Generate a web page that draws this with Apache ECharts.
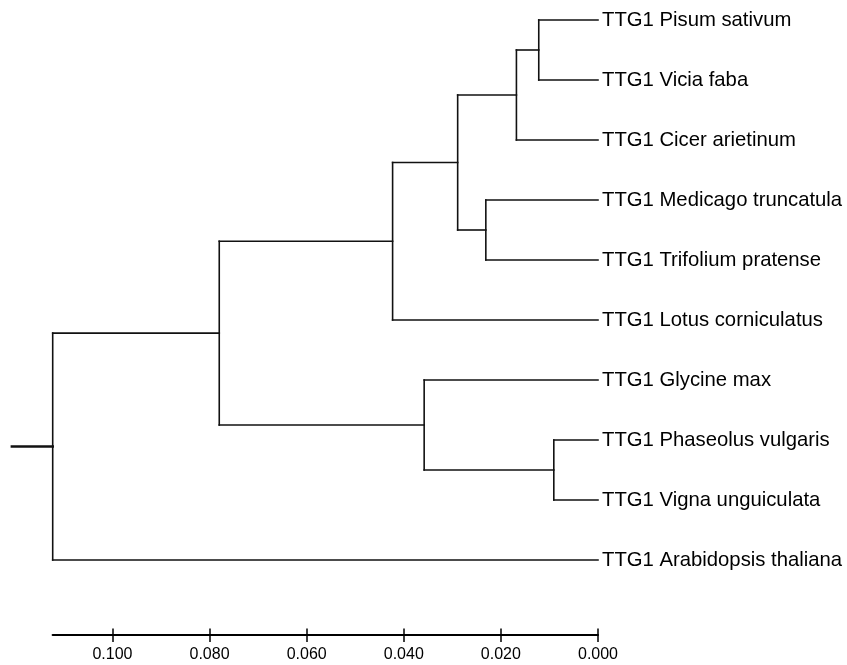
<!DOCTYPE html>
<html>
<head>
<meta charset="utf-8">
<script src="https://cdn.jsdelivr.net/npm/echarts@6/dist/echarts.min.js"></script>
<style>
html,body{margin:0;padding:0;background:#fff;}
#chart{width:847px;height:665px;}
</style>
</head>
<body>
<div id="chart"></div>
<script>
// Leaf taxa, top to bottom
const leafNames = [
  'TTG1 Pisum sativum',
  'TTG1 Vicia faba',
  'TTG1 Cicer arietinum',
  'TTG1 Medicago truncatula',
  'TTG1 Trifolium pratense',
  'TTG1 Lotus corniculatus',
  'TTG1 Glycine max',
  'TTG1 Phaseolus vulgaris',
  'TTG1 Vigna unguiculata',
  'TTG1 Arabidopsis thaliana'
];
// Internal nodes: children (leaf index 0-9, internal node index 10+) and height (distance)
const nodeChildren = [
  [0, 1],   // 10 Pisum + Vicia
  [10, 2],  // 11 + Cicer
  [3, 4],   // 12 Medicago + Trifolium
  [11, 12], // 13
  [13, 5],  // 14 + Lotus
  [7, 8],   // 15 Phaseolus + Vigna
  [6, 15],  // 16 Glycine + 15
  [14, 16], // 17 legumes
  [17, 9]   // 18 root
];
const nodeHeights = [0.0122, 0.0168, 0.0231, 0.0289, 0.0423, 0.0091, 0.0358, 0.0780, 0.1123];
const rootStemStart = 0.1207;
const axisTicks = [0, 0.02, 0.04, 0.06, 0.08, 0.10];
const axisMax = 0.1123;

// Build layout
const nLeaf = leafNames.length;
const ys = [], hs = [], parent = [];
for (let i = 0; i < nLeaf; i++) { ys[i] = i; hs[i] = 0; }
nodeChildren.forEach((c, k) => {
  const id = nLeaf + k;
  hs[id] = nodeHeights[k];
  ys[id] = (ys[c[0]] + ys[c[1]]) / 2;
  parent[c[0]] = id; parent[c[1]] = id;
});
const rootId = nLeaf + nodeChildren.length - 1;
const segs = []; // [x1, y1, x2, y2, width]
for (let id = 0; id <= rootId; id++) {
  const px = id === rootId ? rootStemStart : hs[parent[id]];
  segs.push([px, ys[id], hs[id], ys[id], id === rootId ? 2.6 : 1.6]);
  if (id >= nLeaf) {
    const c = nodeChildren[id - nLeaf];
    segs.push([hs[id], ys[c[0]], hs[id], ys[c[1]], 1.6]);
  }
}
const leafData = leafNames.map((n, i) => [0, i, n]);

const chart = echarts.init(document.getElementById('chart'), null, {renderer: 'canvas'});
const axisCommon = {
  type: 'value', inverse: true, min: 0, max: axisMax, position: 'bottom', offset: 75,
  splitLine: {show: false}
};
chart.setOption({
  animation: false,
  backgroundColor: '#fff',
  grid: {left: 52.7, right: 249, top: 20, height: 540},
  xAxis: [
    Object.assign({}, axisCommon, {
      axisLine: {show: true, onZero: false, lineStyle: {color: '#000', width: 2.2}},
      axisTick: {show: true, length: 7, lineStyle: {color: '#000', width: 1.5}, customValues: axisTicks},
      axisLabel: {show: true, margin: 12, color: '#000', fontSize: 16, fontFamily: 'Liberation Sans, Arial, sans-serif',
        customValues: axisTicks, formatter: v => v.toFixed(3)}
    }),
    Object.assign({}, axisCommon, {
      axisLine: {show: false, onZero: false},
      axisTick: {show: true, inside: true, length: 6.5, lineStyle: {color: '#000', width: 1.5}, customValues: axisTicks},
      axisLabel: {show: false}
    })
  ],
  yAxis: {type: 'value', inverse: true, min: 0, max: nLeaf - 1, show: false},
  series: [
    {
      type: 'custom', coordinateSystem: 'cartesian2d', clip: false,
      data: segs,
      renderItem: (params, api) => {
        const p1 = api.coord([api.value(0), api.value(1)]);
        const p2 = api.coord([api.value(2), api.value(3)]);
        return {
          type: 'line',
          shape: {x1: p1[0], y1: p1[1], x2: p2[0], y2: p2[1]},
          style: {stroke: '#111', lineWidth: api.value(4), lineCap: 'square'}
        };
      }
    },
    {
      type: 'custom', coordinateSystem: 'cartesian2d', clip: false,
      data: leafData,
      renderItem: (params, api) => {
        const p = api.coord([api.value(0), api.value(1)]);
        return {
          type: 'text',
          x: p[0] + 4, y: p[1],
          style: {text: leafData[params.dataIndex][2], fill: '#000', fontSize: 20.3,
            fontFamily: 'Liberation Sans, Arial, sans-serif', verticalAlign: 'middle', align: 'left'}
        };
      }
    }
  ]
});
</script>
</body>
</html>
